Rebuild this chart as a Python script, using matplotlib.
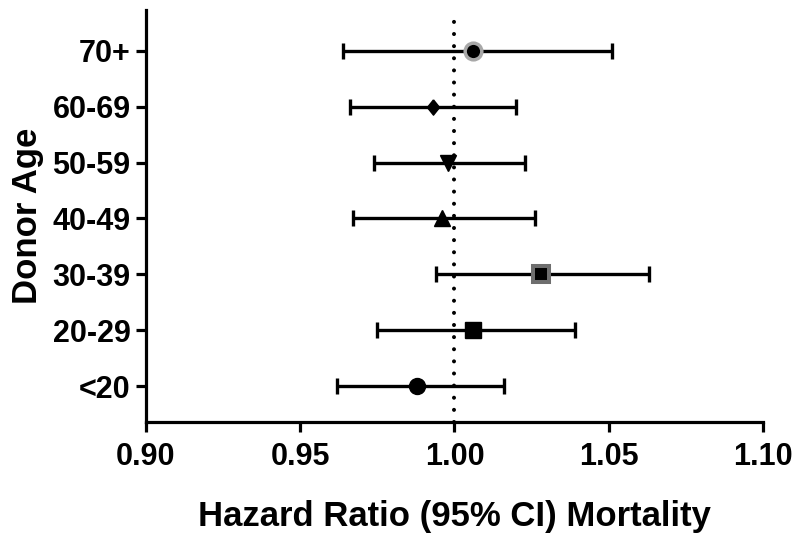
import matplotlib
matplotlib.use("Agg")
import matplotlib.pyplot as plt

plt.rcParams['font.family'] = ['Liberation Sans', 'DejaVu Sans']
plt.rcParams['font.weight'] = 'bold'

# Hazard ratios with 95% confidence limits by donor age band
age_groups = ['<20', '20-29', '30-39', '40-49', '50-59', '60-69', '70+']
hr = [0.988, 1.006, 1.028, 0.996, 0.998, 0.993, 1.006]
ci_low = [0.962, 0.975, 0.994, 0.967, 0.974, 0.966, 0.964]
ci_high = [1.016, 1.039, 1.063, 1.026, 1.023, 1.020, 1.051]

# slightly tall diamond for the 60-69 band
diamond = [(0, 1), (0.8, 0), (0, -1), (-0.8, 0), (0, 1)]

markers = ['o', 's', 's', '^', 'v', diamond, 'o']
marker_sizes = [11.5, 11.5, 12, 11.5, 11.5, 11, 12]
edge_colors = ['black', 'black', '#6e6e6e', 'black', 'black', 'black', '#a8a8a8']
edge_widths = [1, 1, 2.9, 1, 1, 1, 2.5]

fig = plt.figure(figsize=(7.96, 5.33), dpi=100)
ax = fig.add_axes([0.1834, 0.2083, 0.7751, 0.773])

ax.axvline(1.0, color='black', lw=2.9, ls=(0, (0.01, 3.0)),
           dash_capstyle='round', zorder=1)

for i, label in enumerate(age_groups):
    y = i + 1
    ax.errorbar(hr[i], y,
                xerr=[[hr[i] - ci_low[i]], [ci_high[i] - hr[i]]],
                fmt='none', ecolor='black', elinewidth=2.4,
                capsize=5.5, capthick=2.4, zorder=2)
    ax.plot(hr[i], y, marker=markers[i], ms=marker_sizes[i],
            mfc='black', mec=edge_colors[i], mew=edge_widths[i],
            ls='none', zorder=3)

ax.set_xlim(0.90, 1.10)
ax.set_ylim(0.36, 7.73)
ax.set_xticks([0.90, 0.95, 1.00, 1.05, 1.10])
ax.set_xticklabels(['0.90', '0.95', '1.00', '1.05', '1.10'])
ax.set_yticks(range(1, len(age_groups) + 1))
ax.set_yticklabels(age_groups)

for side in ['top', 'right']:
    ax.spines[side].set_visible(False)
for side in ['left', 'bottom']:
    ax.spines[side].set_linewidth(2.3)

ax.tick_params(axis='both', width=2.3, length=7.5, labelsize=22)
ax.tick_params(axis='x', pad=7)
ax.tick_params(axis='y', pad=3.5)

ax.set_xlabel('Hazard Ratio (95% CI) Mortality', fontsize=25,
              fontweight='bold', labelpad=20)
ax.set_ylabel('Donor Age', fontsize=25, fontweight='bold', labelpad=6)

fig.savefig('out.png', dpi=100)
